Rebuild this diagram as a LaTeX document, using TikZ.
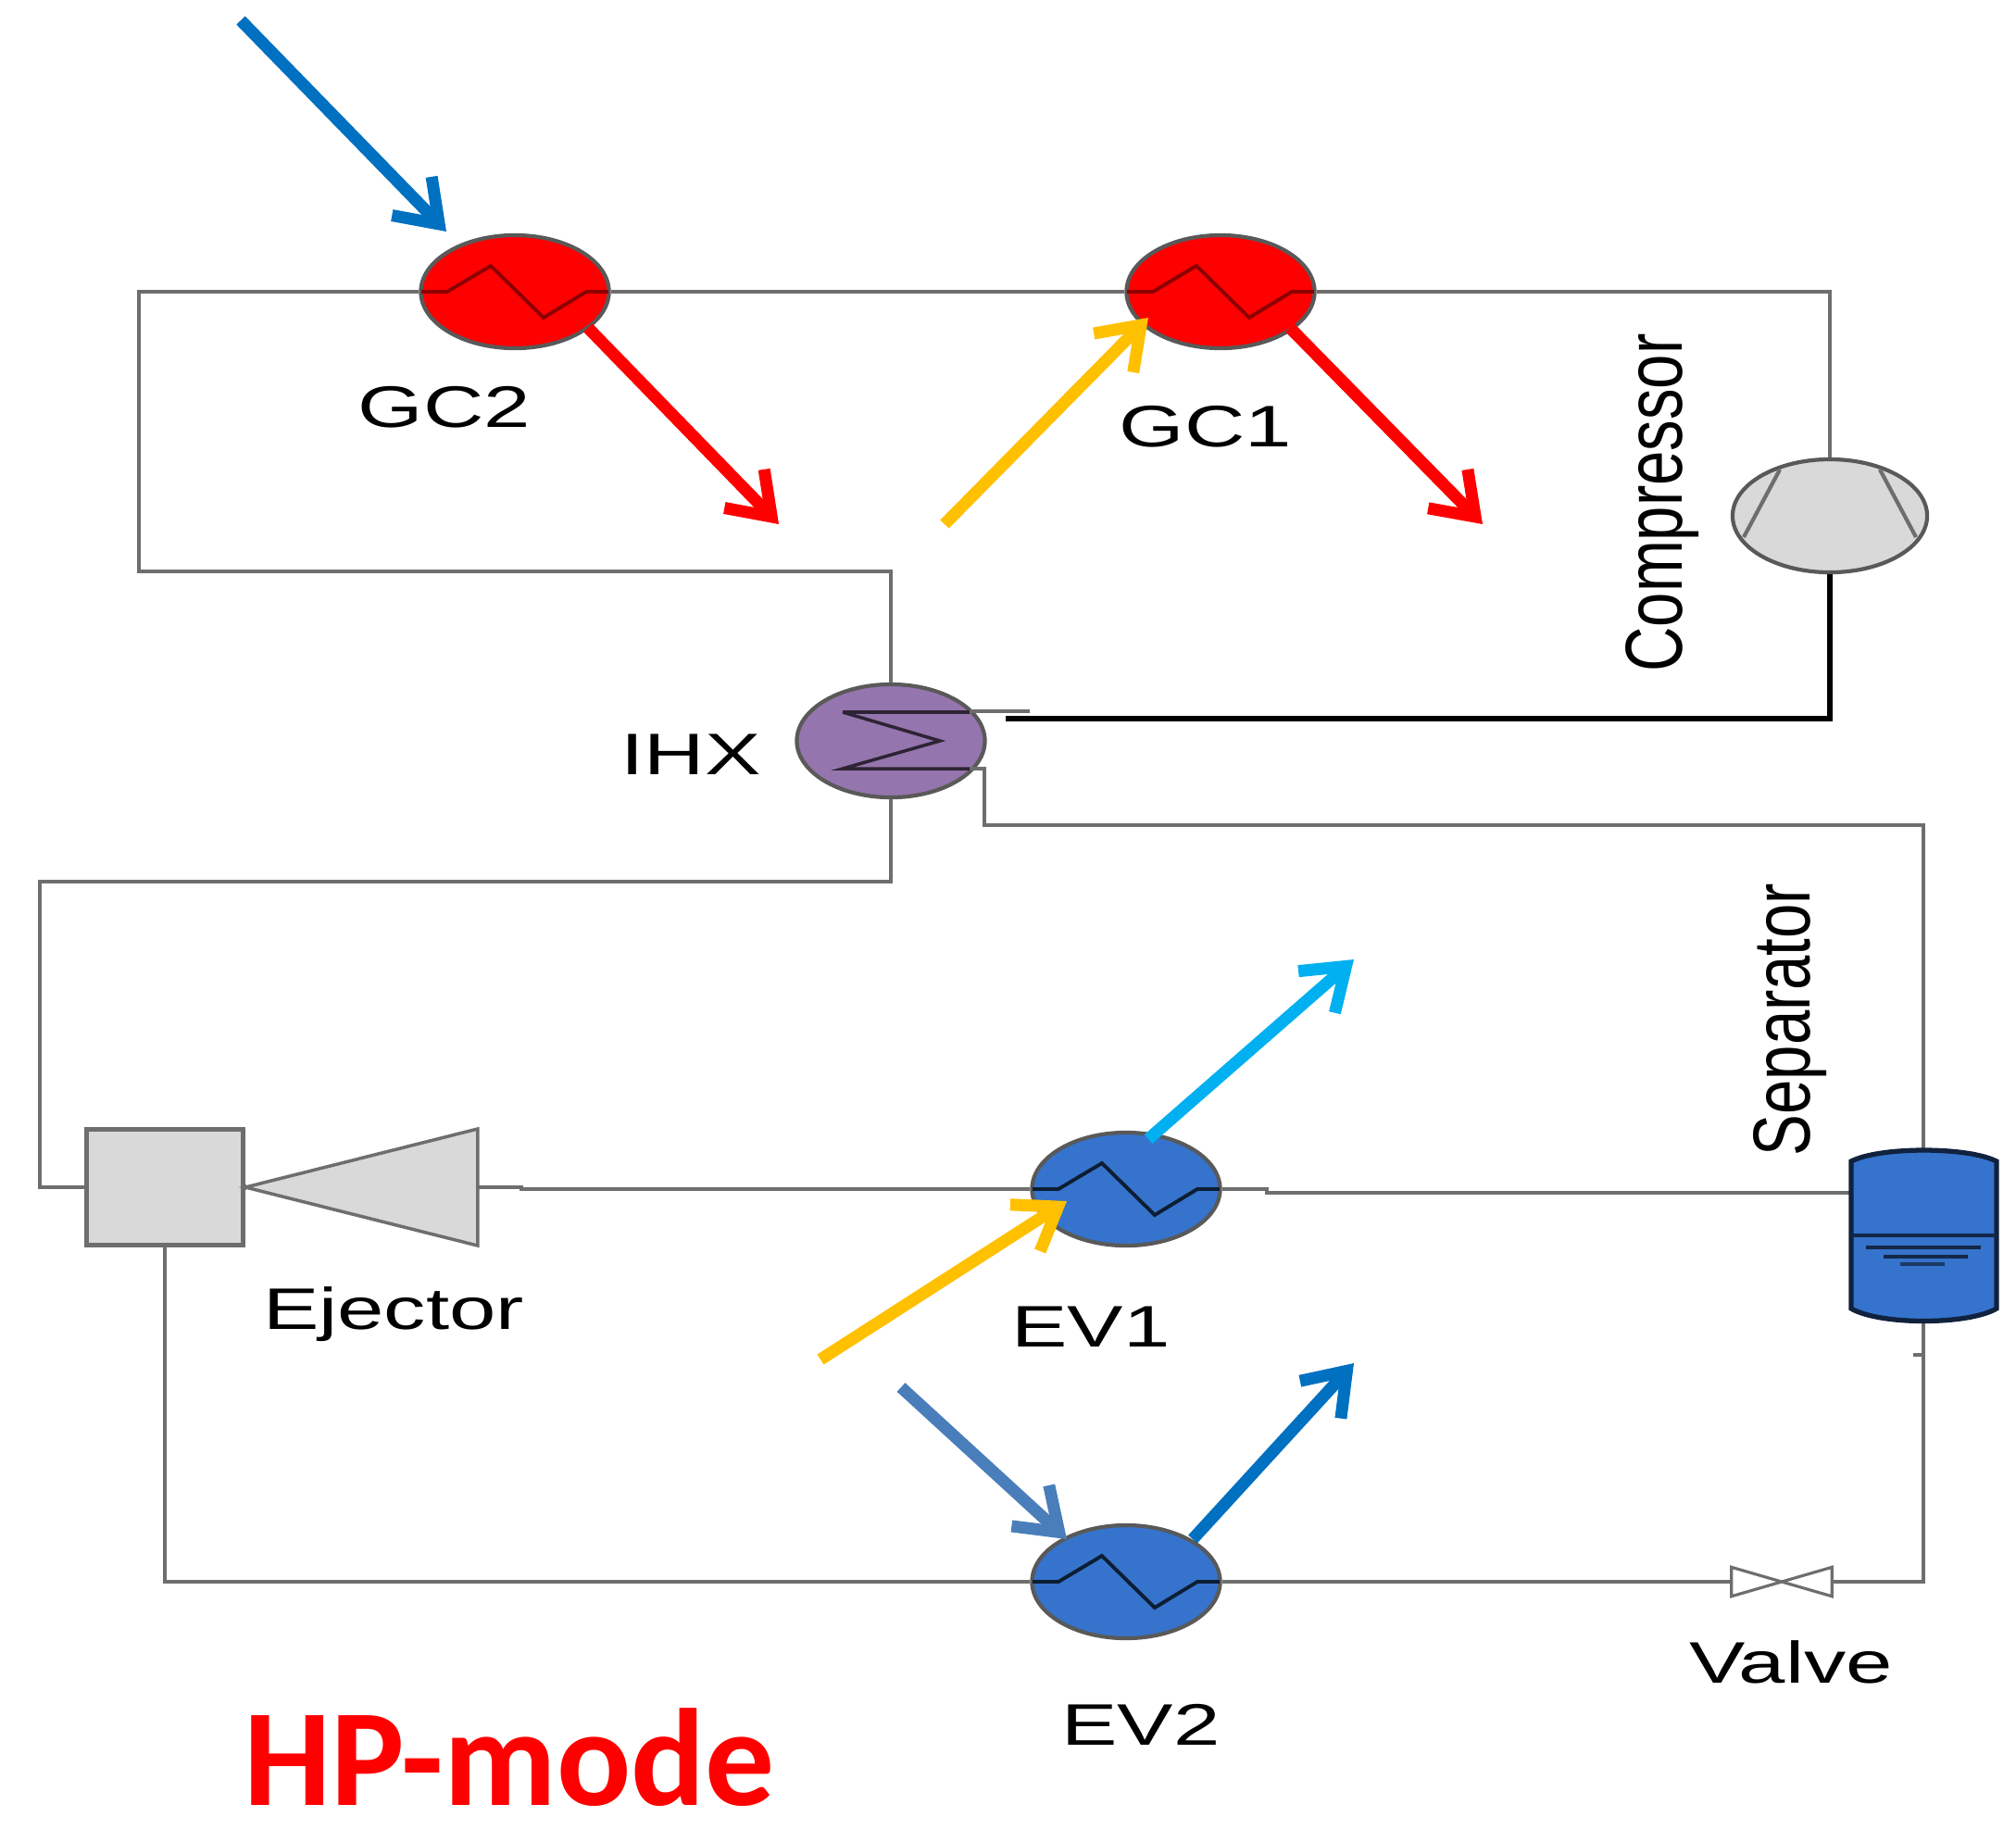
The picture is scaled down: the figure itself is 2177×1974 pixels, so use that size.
\documentclass[tikz,border=0pt]{standalone}
\usepackage{fontspec}
\setmainfont{Liberation Sans}
\newfontfamily\modefont{Carlito}
\usetikzlibrary{arrows.meta,shapes.geometric}
\definecolor{pipegray}{HTML}{6E6E6E}
\definecolor{bodygray}{HTML}{D9D9D9}
\definecolor{hxblue}{HTML}{3573CC}
\definecolor{hxpurple}{HTML}{9575AD}
\definecolor{flowblue}{HTML}{0070C0}
\definecolor{flowsteel}{HTML}{4A7EBB}
\definecolor{flowcyan}{HTML}{00B0F0}
\definecolor{flowyellow}{HTML}{FFC000}
\tikzset{
  pipe/.style={draw=pipegray,line width=1.3pt,line join=miter},
  hotpipe/.style={draw=black,line width=1.7pt,line join=miter},
  hxunit/.style={ellipse,draw=black!65,line width=1.2pt,minimum width=2.03cm,minimum height=1.22cm},
  flow/.style={line width=3.7pt,-{Straight Barb[length=12pt,width=17pt]}},
  tag/.style={font=\fontsize{18}{21}\selectfont,transform shape,xscale=1.43},
  vtag/.style={font=\fontsize{18}{21}\selectfont,transform shape,rotate=90,xscale=1.06,yscale=1.38}
}
\newcommand{\hxzig}[2]{\draw [#2,line width=1.1pt] ([xshift=-1.01cm]#1.center) -- ++(28,0) -- ++(47,-28) -- ++(57,56) -- ++(46,-28) -- ++(24,0);}
\begin{document}
\begin{tikzpicture}[x=0.01cm,y=-0.01cm]
\tikzstyle{every node}+=[inner sep=0pt]
\useasboundingbox (0,0) rectangle (2177,1974);
\node (gc2) [hxunit,fill=red] at (556,315) {};
\node (gc1) [hxunit,fill=red] at (1318,315) {};
\node (ev1) [hxunit,fill=hxblue] at (1216,1284) {};
\node (ev2) [hxunit,fill=hxblue] at (1216,1708) {};
\node (ihx) [hxunit,fill=hxpurple] at (962,800) {};
\node (comp) [hxunit,fill=bodygray,minimum width=2.1cm] at (1976,557) {};
\node (mixer) [draw=pipegray,line width=1.6pt,fill=bodygray,minimum width=1.69cm,minimum height=1.25cm] at (178,1282) {};
\node (ejector) [minimum width=2.5cm,minimum height=1.26cm] at (390,1282) {};
\node (sep) [minimum width=1.57cm,minimum height=1.83cm] at (2077,1334) {};
\node (valve) [minimum width=1.07cm,minimum height=0.3cm] at (1924,1708) {};
\coordinate (sepin) at (1999,1288);
\coordinate (tl) at (150,315);
\coordinate (bl) at (150,617);
\coordinate (ihxin) at (962,617);
\coordinate (tr) at (1976,315);
\coordinate (compdown) at (1976,776);
\coordinate (blackend) at (1086,776);
\coordinate (stubend) at (1112,768);
\coordinate (stubstart) at (1047,768);
\coordinate (ihxo) at (1047,830);
\coordinate (ihxa) at (1063,830);
\coordinate (ihxb) at (1063,891);
\coordinate (ihxc) at (2077,891);
\coordinate (ihxd) at (962,952);
\coordinate (ihxe) at (43,952);
\coordinate (ihxf) at (43,1282);
\coordinate (ejstepa) at (563,1282);
\coordinate (ejstepb) at (563,1284);
\coordinate (stepa) at (1368,1284);
\coordinate (stepb) at (1368,1288);
\coordinate (mixd) at (178,1708);
\coordinate (valr) at (2077,1708);
\coordinate (ticka) at (2066,1463);
\coordinate (tickb) at (2077,1463);
\draw [pipe] (gc2.west) -- (tl) -- (bl) -- (ihxin) -- (ihx.north);
\draw [pipe] (gc2.east) -- (gc1.west);
\draw [pipe] (gc1.east) -- (tr) -- (comp.north);
\draw [hotpipe] (comp.south) -- (compdown) -- (blackend);
\draw [pipe] (stubstart) -- (stubend);
\draw [pipe] (ihxo) -- (ihxa) -- (ihxb) -- (ihxc) -- (sep.north);
\draw [pipe] (ihx.south) -- (ihxd) -- (ihxe) -- (ihxf) -- (mixer.west);
\draw [pipe] (ejector.east) -- (ejstepa) -- (ejstepb) -- (ev1.west);
\draw [pipe] (ev1.east) -- (stepa) -- (stepb) -- (sepin);
\draw [pipe] (mixer.south) -- (mixd) -- (ev2.west);
\draw [pipe] (ev2.east) -- (valve.west);
\draw [pipe] (valve.east) -- (valr) -- (sep.south);
\draw [pipe] (ticka) -- (tickb);
\draw [pipe,fill=bodygray,line width=1pt] (ejector.east |- 0,1219) -- (265,1282) -- (ejector.east |- 0,1345) -- cycle;
\draw [pipe,line width=1.5pt] (mixer.east) -- (265,1282);
\draw [pipe,line width=0.9pt] (valve.north west) -- (valve.south east) -- (valve.north east) -- (valve.south west) -- cycle;
\draw [draw=black!70!hxblue,line width=1.5pt,fill=hxblue] (1999,1254) .. controls (2030,1238) and (2125,1238) .. (2156,1254) -- (2156,1413) .. controls (2125,1431) and (2030,1431) .. (1999,1413) -- cycle;
\draw [draw=black!65!hxblue,line width=1pt] (1999,1334) -- (2156,1334);
\draw [draw=black!65!hxblue,line width=0.9pt] (2015,1347) -- (2139,1347);
\draw [draw=black!65!hxblue,line width=0.9pt] (2034,1357) -- (2125,1357);
\draw [draw=black!50!hxblue,line width=0.9pt] (2052,1365) -- (2100,1365);
\hxzig{gc2}{red!55!black}
\hxzig{gc1}{red!55!black}
\hxzig{ev1}{black!75!hxblue}
\hxzig{ev2}{black!75!hxblue}
\draw [black!70!hxpurple,line width=1pt] (910,769) -- (1047,769);
\draw [black!70!hxpurple,line width=1pt] (910,769) -- (1015,800) -- (910,830) -- (1047,830);
\draw [pipe,line width=1.2pt] ([shift={(-54,-50)}]comp.center) -- ([shift={(-93,23)}]comp.center);
\draw [pipe,line width=1.2pt] ([shift={(54,-50)}]comp.center) -- ([shift={(93,23)}]comp.center);
\coordinate (blue0) at (260,22);
\coordinate (blue1) at (482,250);
\coordinate (red0) at (635,354);
\coordinate (red1) at (841,566);
\coordinate (red2) at (1393,354);
\coordinate (red3) at (1601,566);
\coordinate (yel0) at (1020,566);
\coordinate (yel1) at (1240,343);
\coordinate (cy0) at (1240,1230);
\coordinate (cy1) at (1462,1036);
\coordinate (yel2) at (886,1468);
\coordinate (yel3) at (1152,1297);
\coordinate (st0) at (973,1498);
\coordinate (st1) at (1152,1662);
\coordinate (dk0) at (1288,1662);
\coordinate (dk1) at (1462,1472);
\draw [flow,flowblue] (blue0) -- (blue1);
\draw [flow,red] (red0) -- (red1);
\draw [flow,red] (red2) -- (red3);
\draw [flow,flowyellow] (yel0) -- (yel1);
\draw [flow,flowcyan] (cy0) -- (cy1);
\draw [flow,flowyellow] (yel2) -- (yel3);
\draw [flow,flowsteel] (st0) -- (st1);
\draw [flow,flowblue] (dk0) -- (dk1);
\node (gc2lab) [tag] at (480,440) {GC2};
\node (gc1lab) [tag] at (1302,461) {GC1};
\node (ihxlab) [tag] at (746,815) {IHX};
\node (ejlab) [tag] at (425,1419) {Ejector};
\node (ev1lab) [tag] at (1178,1433) {EV1};
\node (ev2lab) [tag] at (1232,1862) {EV2};
\node (vallab) [tag] at (1934,1795) {Valve};
\node (complab) [vtag] at (1795,543) {Compressor};
\node (seplab) [vtag] at (1933,1101) {Separator};
\node (modelab) [font=\modefont\bfseries\fontsize{42.5}{50}\selectfont,text=red] at (550,1898) {HP-mode};
\end{tikzpicture}
\end{document}
